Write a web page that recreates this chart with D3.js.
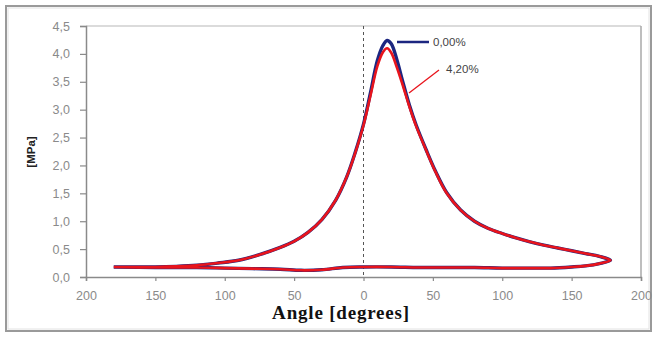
<!DOCTYPE html>
<html><head><meta charset="utf-8">
<script src="https://cdn.jsdelivr.net/npm/d3@7"></script>
<style>body{margin:0;background:#fff}svg{display:block}</style>
</head><body>
<svg id="c" width="657" height="337"></svg>
<script>
// Data (angle in degrees, pressure in MPa)
const angleUp = [-180,-165,-150,-135,-120,-105,-90,-75,-60,-50,-40,-30,-20,-12,-6,0,5,10,14,17,20,24,28,33,38,45,52,60,70,80,90,100,110,120,130,140,150,160,170,178];
const mpaUp42 = [0.18,0.18,0.18,0.19,0.21,0.25,0.30,0.40,0.53,0.64,0.80,1.03,1.38,1.80,2.22,2.72,3.25,3.78,4.03,4.10,4.02,3.76,3.46,3.06,2.70,2.28,1.88,1.50,1.20,1.00,0.87,0.78,0.70,0.63,0.57,0.52,0.47,0.42,0.37,0.30];
const mpaUp0  = [0.18,0.18,0.18,0.19,0.21,0.25,0.30,0.40,0.53,0.64,0.80,1.03,1.38,1.80,2.23,2.74,3.30,3.88,4.15,4.24,4.18,3.90,3.53,3.09,2.72,2.29,1.89,1.51,1.20,1.00,0.87,0.78,0.70,0.63,0.57,0.52,0.47,0.42,0.37,0.30];
const angleDown = [178,170,160,150,135,120,100,80,60,40,20,0,-15,-30,-45,-60,-80,-100,-120,-150,-180];
const mpaDown42 = [0.30,0.24,0.20,0.18,0.16,0.16,0.16,0.17,0.17,0.17,0.18,0.18,0.17,0.13,0.12,0.14,0.15,0.16,0.17,0.17,0.18];
const mpaDown0  = [0.30,0.24,0.20,0.18,0.16,0.16,0.16,0.17,0.17,0.17,0.18,0.18,0.17,0.13,0.12,0.14,0.15,0.16,0.17,0.17,0.18];
const xTicks = [-200,-150,-100,-50,0,50,100,150,200];
const yTicks = [0,0.5,1,1.5,2,2.5,3,3.5,4,4.5];
const seriesNames = ["0,00%","4,20%"];

const svg = d3.select("#c");
const W = 657, H = 337;
const m = {left:86, right:16, top:26, bottom:60};
const x = d3.scaleLinear().domain([-200,200]).range([m.left, W-m.right]);
const y = d3.scaleLinear().domain([0,4.5]).range([H-m.bottom, m.top]);

// outer frame
svg.append("rect").attr("x",6).attr("y",6).attr("width",645).attr("height",325)
  .attr("fill","#fff").attr("stroke","#9a9a9a").attr("stroke-width",2);
svg.append("rect").attr("x",8).attr("y",8).attr("width",641).attr("height",321)
  .attr("fill","none").attr("stroke","#e2e2e2").attr("stroke-width",1);

// plot box top/right
svg.append("line").attr("x1",x(-200)).attr("x2",x(200)).attr("y1",y(4.5)).attr("y2",y(4.5))
  .attr("stroke","#cfcfcf").attr("stroke-width",1.5);
svg.append("line").attr("x1",x(200)).attr("x2",x(200)).attr("y1",y(4.5)).attr("y2",y(0))
  .attr("stroke","#a8a8a8").attr("stroke-width",1.5);

// axes
const fmtY = d => d3.format(".1f")(d).replace(".", ",");
const xAxis = d3.axisBottom(x).tickValues(xTicks).tickFormat(d => Math.abs(d)).tickSize(4).tickPadding(10);
const yAxis = d3.axisLeft(y).tickValues(yTicks).tickFormat(fmtY).tickSize(6).tickPadding(10);
const gx = svg.append("g").attr("transform",`translate(0,${y(0)})`).call(xAxis);
const gy = svg.append("g").attr("transform",`translate(${x(-200)},0)`).call(yAxis);
[gx,gy].forEach(g=>{
  g.select(".domain").attr("stroke","#8a8a8a").attr("stroke-width",1.5);
  g.selectAll(".tick line").attr("stroke","#8a8a8a").attr("stroke-width",1.2);
  g.selectAll(".tick text").attr("fill","#8a8a8a").style("font-family","'Liberation Sans', Arial, sans-serif").style("font-size","12.5px");
});

// zero dashed line
svg.append("line").attr("x1",x(0)).attr("x2",x(0)).attr("y1",y(4.5)).attr("y2",y(0))
  .attr("stroke","#555").attr("stroke-width",1).attr("stroke-dasharray","3,3");

// curves
const loop = (ua, uv, da, dv) => ua.map((a,i)=>[a,uv[i]]).concat(da.map((a,i)=>[a,dv[i]]).slice(1));
const line = d3.line().x(d=>x(d[0])).y(d=>y(d[1])).curve(d3.curveCatmullRom.alpha(0.5));
svg.append("path").datum(loop(angleUp,mpaUp0,angleDown,mpaDown0)).attr("d",line)
  .attr("fill","none").attr("stroke","#1c2680").attr("stroke-width",3.4).attr("stroke-linejoin","round");
svg.append("path").datum(loop(angleUp,mpaUp42,angleDown,mpaDown42)).attr("d",line)
  .attr("fill","none").attr("stroke","#e8141c").attr("stroke-width",2.6).attr("stroke-linejoin","round");

// labels on curves
svg.append("line").attr("x1",397).attr("x2",429).attr("y1",42).attr("y2",42)
  .attr("stroke","#1c2680").attr("stroke-width",2.5);
svg.append("text").attr("x",433).attr("y",46).text(seriesNames[0])
  .attr("fill","#444").style("font-family","'Liberation Sans', Arial, sans-serif").style("font-size","11.5px");
svg.append("line").attr("x1",409).attr("x2",439).attr("y1",93).attr("y2",70)
  .attr("stroke","#e8141c").attr("stroke-width",1.3);
svg.append("text").attr("x",446).attr("y",73).text(seriesNames[1])
  .attr("fill","#444").style("font-family","'Liberation Sans', Arial, sans-serif").style("font-size","11.5px");

// axis titles
svg.append("text").attr("x",341).attr("y",319).attr("text-anchor","middle").text("Angle [degrees]")
  .attr("fill","#111").style("font-family","'Liberation Serif', 'Times New Roman', serif").style("font-weight","bold").style("font-size","19px").style("letter-spacing","0.8px");
svg.append("text").attr("transform","translate(35,152) rotate(-90)").attr("text-anchor","middle").text("[MPa]")
  .attr("fill","#222").style("font-family","'Liberation Sans', Arial, sans-serif").style("font-weight","bold").style("font-size","11.5px");
</script>
</body></html>
